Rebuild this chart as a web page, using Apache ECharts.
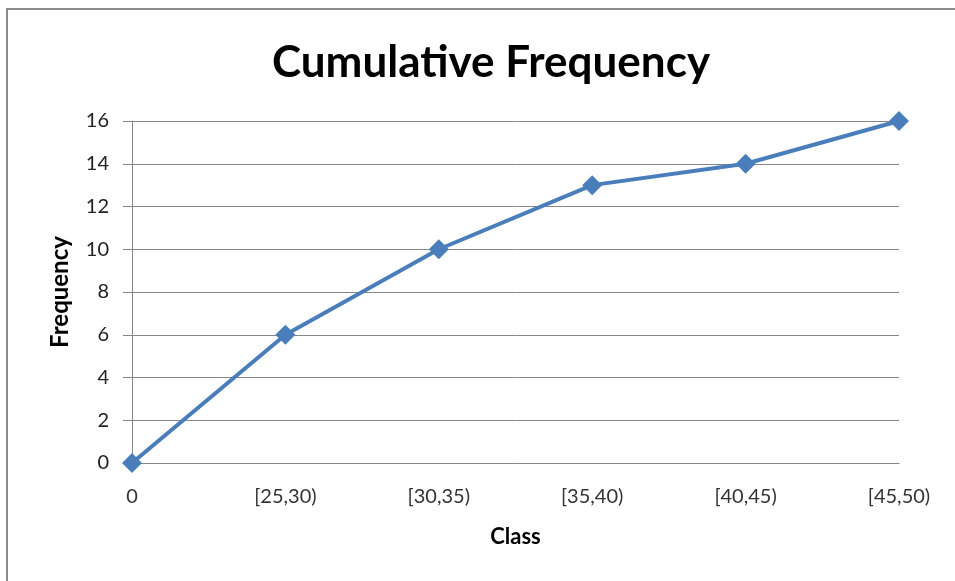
<!DOCTYPE html>
<html>
<head>
<meta charset="utf-8">
<script src="https://cdn.jsdelivr.net/npm/echarts@6/dist/echarts.min.js"></script>
<style>
html,body{margin:0;padding:0;background:#fff;overflow:hidden;}
#frame{position:absolute;left:6px;top:8px;width:1200px;height:1200px;border:2px solid #8c8c8c;box-sizing:border-box;}
#chart{position:absolute;left:0;top:0;width:955px;height:581px;}
</style>
</head>
<body>
<div id="frame"></div>
<div id="chart"></div>
<script>
const titleText = 'Cumulative Frequency';
const categories = ['0', '[25,30)', '[30,35)', '[35,40)', '[40,45)', '[45,50)'];
const cumulativeFrequency = [0, 6, 10, 13, 14, 16];
const xAxisName = 'Class';
const yAxisName = 'Frequency';

const FONT = 'Lato, "Open Sans", sans-serif';
const chart = echarts.init(document.getElementById('chart'), null, {renderer: 'canvas'});
chart.setOption({
  backgroundColor: 'transparent',
  animation: false,
  title: {
    text: titleText,
    left: 486,
    top: 36,
    textAlign: 'center',
    textStyle: {fontFamily: FONT, fontSize: 44, fontWeight: 'bold', color: '#000'}
  },
  grid: {left: 132, right: 56, top: 121, bottom: 118, containLabel: false},
  xAxis: {
    type: 'category',
    data: categories,
    boundaryGap: false,
    name: xAxisName,
    nameLocation: 'middle',
    nameGap: 63,
    nameTextStyle: {fontFamily: FONT, fontSize: 22, fontWeight: 'bold', color: '#000'},
    axisLine: {show: true, lineStyle: {color: '#868686', width: 1}},
    axisTick: {show: false},
    axisLabel: {fontFamily: FONT, fontSize: 20, color: '#333', margin: 24}
  },
  yAxis: {
    type: 'value',
    min: 0,
    max: 16,
    interval: 2,
    name: yAxisName,
    nameLocation: 'middle',
    nameGap: 60,
    nameRotate: 90,
    nameTextStyle: {fontFamily: FONT, fontSize: 24, fontWeight: 'bold', color: '#000'},
    axisLine: {show: true, lineStyle: {color: '#868686', width: 1}},
    axisTick: {show: true, length: 9, lineStyle: {color: '#868686'}},
    axisLabel: {fontFamily: FONT, fontSize: 20, color: '#222', margin: 23},
    splitLine: {show: true, lineStyle: {color: '#868686', width: 1}}
  },
  series: [{
    type: 'line',
    data: cumulativeFrequency,
    symbol: 'diamond',
    symbolSize: 20,
    lineStyle: {color: '#4A7EBB', width: 4},
    itemStyle: {color: '#4A7EBB'},
    clip: false
  }]
});
</script>
</body>
</html>
